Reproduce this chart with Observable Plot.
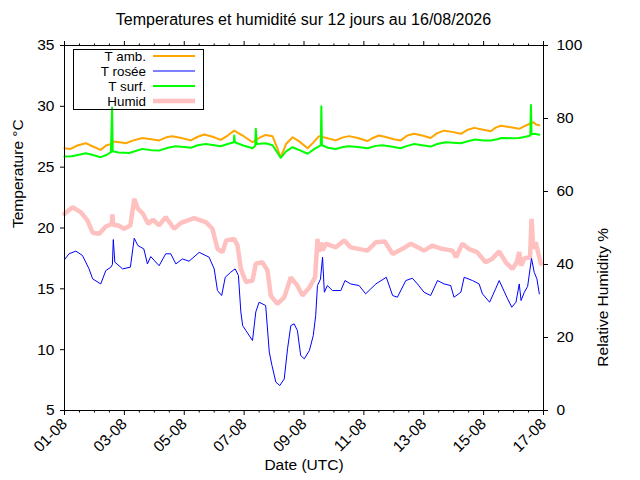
<!DOCTYPE html>
<html>
<head>
<meta charset="utf-8">
<script src="https://cdn.jsdelivr.net/npm/d3@7"></script>
<script src="https://cdn.jsdelivr.net/npm/@observablehq/plot@0.6"></script>
<style>
  body { margin: 0; background: #fff; font-family: "Liberation Sans", Arial, sans-serif; }
  #wrap { position: relative; width: 640px; height: 480px; background: #fff; }
  #title { position: absolute; left: 64px; top: 0; width: 479px; height: 40px; line-height: 40px;
           text-align: center; font-size: 16px; color: #000; white-space: nowrap; }
  #chart { position: absolute; left: 0; top: 40px; }
  #legend { position: absolute; left: 0; top: 0; pointer-events: none; }
  .lgtext { position: absolute; width: 80px; height: 15px; line-height: 15px; overflow: visible;
            text-align: right; font-size: 13.4px; color: #000; white-space: nowrap; }
</style>
</head>
<body>
<div id="wrap">
  <div id="title">Temperatures et humidité sur 12 jours au 16/08/2026</div>
  <div id="chart"></div>
</div>
<script>
// ---------- data (time in days since 01-08-2026 00:00 UTC) ----------
const ambDays = [0,0.2,0.45,0.71,0.95,1.21,1.4,1.58,1.62,1.85,2.05,2.3,2.6,2.9,3.16,3.4,3.6,3.9,4.22,4.45,4.67,4.95,5.22,5.45,5.67,5.95,6.28,6.5,6.72,6.95,7.1,7.22,7.4,7.62,7.85,8.12,8.3,8.5,8.75,9.06,9.3,9.51,9.8,10.12,10.3,10.5,10.7,11.0,11.23,11.45,11.68,11.95,12.23,12.45,12.68,12.95,13.24,13.45,13.68,13.95,14.24,14.4,14.57,14.85,15.19,15.35,15.52,15.65,15.75,15.86];
const ambTemp = [26.55,26.5,26.8,26.97,26.7,26.42,26.8,26.9,27.1,27.05,26.97,27.2,27.4,27.3,27.2,27.45,27.54,27.4,27.2,27.5,27.68,27.5,27.24,27.6,28.0,27.6,27.05,27.4,27.65,27.55,26.6,25.8,26.9,27.46,27.1,26.55,27.0,27.55,27.4,27.2,27.45,27.55,27.4,27.15,27.4,27.6,27.5,27.3,27.2,27.6,27.74,27.6,27.4,27.8,28.0,27.9,27.74,28.05,28.23,28.1,27.95,28.25,28.4,28.3,28.15,28.35,28.55,28.7,28.5,28.45];

const dewDays = [0,0.15,0.38,0.6,0.82,0.94,1.21,1.38,1.55,1.6,1.63,1.68,1.94,2.2,2.33,2.45,2.65,2.77,2.88,3.16,3.38,3.55,3.72,3.94,4.16,4.5,4.83,5.0,5.11,5.25,5.37,5.55,5.7,5.81,5.89,5.95,6.06,6.28,6.39,6.5,6.72,6.84,6.93,7.06,7.19,7.34,7.45,7.56,7.67,7.78,7.89,8.01,8.18,8.31,8.39,8.45,8.55,8.62,8.68,8.78,8.95,9.23,9.37,9.56,9.84,10.06,10.23,10.4,10.75,10.96,11.12,11.4,11.62,11.79,12.01,12.23,12.46,12.68,12.9,13.01,13.24,13.35,13.63,13.85,13.96,14.2,14.4,14.52,14.8,14.94,15.08,15.19,15.25,15.36,15.47,15.6,15.69,15.78,15.86];
const dewTemp = [17.4,17.88,18.1,17.74,16.64,15.82,15.4,16.5,16.78,17.0,19.05,17.2,16.64,16.78,19.16,18.56,18.28,17.05,17.65,16.9,17.88,17.88,17.05,17.46,17.27,18.0,17.6,16.64,14.86,14.45,15.95,16.36,16.64,16.1,13.1,11.98,11.57,10.75,13.1,13.9,13.63,9.8,8.7,7.33,7.05,7.6,10.07,11.98,12.12,11.57,9.52,9.25,9.93,11.16,12.8,15.27,15.8,17.6,14.72,15.27,14.86,14.86,15.68,15.4,15.27,14.59,15.0,15.4,15.95,14.45,14.31,15.68,15.87,15.4,14.72,14.45,15.68,15.4,15.27,14.31,14.72,15.95,15.68,15.4,14.59,13.9,15.0,15.68,14.18,13.49,13.9,15.4,14.04,14.72,15.2,17.5,16.36,15.82,14.59];

const surfDays = [0,0.25,0.71,0.95,1.21,1.4,1.55,1.59,1.61,1.8,2.16,2.4,2.6,2.9,3.16,3.45,3.72,4.0,4.22,4.45,4.72,5.0,5.22,5.45,5.66,5.67,5.69,5.95,6.28,6.37,6.39,6.42,6.72,6.95,7.22,7.4,7.62,7.85,8.12,8.35,8.56,8.58,8.6,8.8,9.06,9.3,9.51,9.8,10.12,10.4,10.62,10.9,11.23,11.45,11.68,11.95,12.23,12.45,12.72,13.0,13.24,13.5,13.72,14.0,14.24,14.45,14.6,15.0,15.19,15.4,15.56,15.58,15.6,15.7,15.86];
const surfTemp = [25.87,25.9,26.14,26.0,25.82,26.0,26.24,29.9,26.3,26.2,26.17,26.35,26.5,26.4,26.36,26.6,26.72,26.65,26.6,26.8,26.9,26.8,26.72,26.9,27.05,27.6,27.05,26.8,26.55,26.75,28.15,26.9,26.97,26.8,25.77,26.3,26.64,26.4,26.1,26.5,26.8,30.0,26.8,26.6,26.5,26.65,26.72,26.65,26.55,26.75,26.8,26.7,26.55,26.75,26.9,26.8,26.69,26.9,27.05,27.0,26.97,27.15,27.27,27.2,27.19,27.3,27.4,27.38,27.4,27.5,27.6,30.1,27.7,27.75,27.66];

const humDays = [0,0.27,0.55,0.77,0.94,1.16,1.38,1.58,1.6,1.63,1.8,1.99,2.2,2.33,2.45,2.62,2.8,2.95,3.16,3.38,3.66,3.89,4.33,4.72,4.94,5.11,5.28,5.4,5.67,5.78,5.89,6.06,6.28,6.39,6.61,6.78,6.89,7.11,7.34,7.56,7.78,7.95,8.19,8.37,8.45,8.5,8.56,8.62,8.73,9.06,9.34,9.56,10.12,10.4,10.7,10.96,11.29,11.57,11.8,12.01,12.29,12.6,12.96,13.08,13.29,13.5,13.78,14.07,14.29,14.52,14.74,14.96,15.1,15.19,15.25,15.37,15.55,15.6,15.66,15.74,15.91];
const humValue = [53.9,55.7,54.3,52.0,48.7,48.4,50.4,51.1,53.7,50.8,50.7,49.8,50.7,58.0,55.3,53.9,51.1,52.3,50.7,53.0,49.8,51.4,52.7,51.6,49.8,44.3,43.4,46.6,47.0,45.2,38.8,35.2,35.6,40.2,40.6,38.4,31.5,29.2,31.0,36.5,34.2,31.5,33.8,36.5,47.0,43.5,46.0,43.8,45.7,44.7,46.6,44.7,43.8,46.1,46.3,42.9,44.3,45.7,44.7,43.8,45.2,44.3,43.8,42.0,45.7,44.3,43.4,40.6,41.6,43.6,40.6,38.8,40.5,43.4,39.7,41.7,42.0,52.5,44.3,46.1,40.2];

const tempTicks = [5,10,15,20,25,30,35];
const humTicks = [0,20,40,60,80,100];
const xMajorDays = [0,2,4,6,8,10,12,14,16];
const xTickLabels = ["01-08","03-08","05-08","07-08","09-08","11-08","13-08","15-08","17-08"];
const legendNames = ["T amb.","T rosée","T surf.","Humid"];
const legendColors = ["#ffa500","#0000ff","#00ff00","#ffc0c0"];
const legendWidths = [2,1,2,4.5];

// ---------- build tables ----------
const t0 = Date.UTC(2026, 7, 1);
const toDate = d => new Date(t0 + d * 864e5);
const rows = (days, vals) => days.map((d, i) => ({date: toDate(d), value: vals[i]}));
// humidity (0..100) is drawn against the temperature scale (5..35)
const humToT = h => 5 + h * 0.3;

const amb = rows(ambDays, ambTemp);
const dew = rows(dewDays, dewTemp);
const surf = rows(surfDays, surfTemp);
const hum = rows(humDays, humValue).map(r => ({date: r.date, value: humToT(r.value)}));

const majorDates = xMajorDays.map(toDate);
const minorDates = d3.range(0, 16.01, 0.5).filter(d => d % 2 !== 0).map(toDate);
const labelOf = d => xTickLabels[xMajorDays.indexOf(Math.round((+d - t0) / 864e5))];

const chart = Plot.plot({
  width: 640,
  height: 440,
  marginTop: 5,
  marginBottom: 70,
  marginLeft: 64,
  marginRight: 97,
  style: {fontFamily: '"Liberation Sans", Arial, sans-serif', fontSize: "15.5px", color: "#000", background: "#fff", overflow: "visible"},
  x: {type: "utc", domain: [toDate(0), toDate(16)]},
  y: {domain: [5, 35]},
  marks: [
    Plot.line(hum, {x: "date", y: "value", stroke: legendColors[3], strokeWidth: legendWidths[3], strokeLinejoin: "miter"}),
    Plot.line(amb, {x: "date", y: "value", stroke: legendColors[0], strokeWidth: legendWidths[0]}),
    Plot.line(dew, {x: "date", y: "value", stroke: legendColors[1], strokeWidth: legendWidths[1]}),
    Plot.line(surf, {x: "date", y: "value", stroke: legendColors[2], strokeWidth: legendWidths[2]}),
    Plot.frame({stroke: "#000", strokeWidth: 1}),
    Plot.axisY({anchor: "left", ticks: tempTicks, tickSize: 4, tickPadding: 6, label: null}),
    Plot.axisY({anchor: "right", ticks: humTicks.map(humToT), tickFormat: t => String(Math.round((t - 5) / 0.3)), tickSize: 4, tickPadding: 9, label: null}),
    Plot.axisX({anchor: "bottom", ticks: majorDates, tickFormat: labelOf, tickSize: 5, tickPadding: 6, tickRotate: -45, label: null}),
    Plot.axisX({anchor: "bottom", ticks: minorDates, tickFormat: () => "", tickSize: 2.5, label: null}),
    Plot.axisX({anchor: "top", ticks: majorDates, tickFormat: () => "", tickSize: 5, label: null}),
    Plot.axisX({anchor: "top", ticks: minorDates, tickFormat: () => "", tickSize: 2.5, label: null}),
    Plot.text(["Temperature °C"], {text: d => d, frameAnchor: "left", dx: -46, rotate: -90}),
    Plot.text(["Relative Humidity %"], {text: d => d, frameAnchor: "right", dx: 60, rotate: -90}),
    Plot.text(["Date (UTC)"], {text: d => d, frameAnchor: "bottom", dy: 59})
  ]
});
document.getElementById("chart").appendChild(chart);

// ---------- legend (gnuplot-style key box, top-left inside the plot) ----------
const wrap = d3.select("#wrap");
const lg = wrap.append("svg").attr("id", "legend").attr("width", 640).attr("height", 480);
lg.append("rect").attr("x", 73.5).attr("y", 49.5).attr("width", 130).attr("height", 60)
  .attr("fill", "none").attr("stroke", "#000").attr("stroke-width", 1);
legendNames.forEach((name, i) => {
  const y = 56 + i * 15;
  wrap.append("div").attr("class", "lgtext")
    .style("left", (146 - 80) + "px").style("top", (y - 7.5) + "px").text(name);
  lg.append("line").attr("x1", 153).attr("x2", 195).attr("y1", y).attr("y2", y)
    .attr("stroke", legendColors[i]).attr("stroke-width", legendWidths[i]);
});
</script>
</body>
</html>
